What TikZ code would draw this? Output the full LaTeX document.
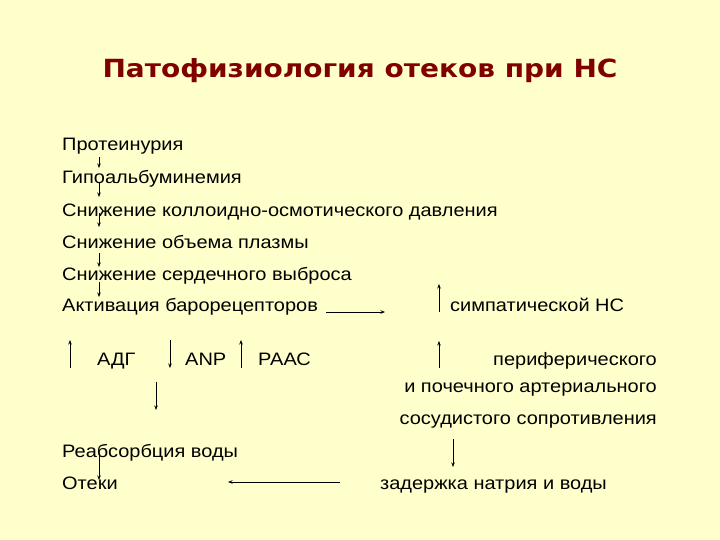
\documentclass[tikz,border=0pt]{standalone}
\usepackage{fontspec}
\setmainfont{Liberation Sans}[FakeStretch=1.11]
\newfontfamily\titlefont{DejaVu Sans}[FakeStretch=1.12]
\usetikzlibrary{positioning,arrows.meta}
\definecolor{slidebg}{HTML}{FFFFCC}
\definecolor{titlered}{HTML}{800000}

\begin{document}
\begin{tikzpicture}[
    x=1pt, y=-1pt,
    every node/.style={font=\fontsize{18}{22}\selectfont, inner sep=0pt, anchor=base west},
    title/.style={font=\titlefont\bfseries\fontsize{25}{28}\selectfont, text=titlered, anchor=base},
    rline/.style={anchor=base east},
    arr/.style={-{Stealth[length=4.5pt,width=3.5pt]}, line width=0.7pt},
]
  \useasboundingbox[fill=slidebg] (0,0) rectangle (720,540);
  \node[title] (title) at (360,78) {Патофизиология отеков при НС};
  % Main chain (left column)
  \node (prot)   at (62,151) {Протеинурия};
  \node (hypo)   at (62,184) {Гипоальбуминемия};
  \node (onc)    at (62,216) {Снижение коллоидно-осмотического давления};
  \node (plasma) at (62,248) {Снижение объема плазмы};
  \node (output) at (62,280) {Снижение сердечного выброса};
  \node (baro)   at (62,311) {Активация барорецепторов};
  % Hormones
  \node (adg)  at (97,365)  {АДГ};
  \node (anp)  at (185,365) {ANP};
  \node (raas) at (258,365) {РААС};
  \node (reabs)  at (62,457) {Реабсорбция воды};
  \node (edema)  at (62,489) {Отеки};
  % Right branch
  \node (symp) at (450,311) {симпатической НС};
  \node[rline] (peri)  at (657,365) {периферического};
  \node[rline] (renal) at (657,392) {и почечного артериального};
  \node[rline] (vasc)  at (657,424) {сосудистого сопротивления};
  \node (retain) at (380,489) {задержка натрия и воды};
  % Arrow columns
  \coordinate (ax) at (99,0);
  \coordinate (bx) at (439,0);
  \coordinate (cx) at (156,0);
  \coordinate (dx) at (453,0);
  % Chain arrows
  \draw[arr] ([yshift=-6pt]prot.base -| ax)   -- ([yshift=16pt]hypo.base -| ax);
  \draw[arr] ([yshift=2pt]hypo.base -| ax)    -- ([yshift=19pt]onc.base -| ax);
  \draw[arr] ([yshift=3pt]onc.base -| ax)     -- ([yshift=21pt]plasma.base -| ax);
  \draw[arr] ([yshift=-5pt]plasma.base -| ax) -- ([yshift=13pt]output.base -| ax);
  \draw[arr] ([yshift=-2pt]output.base -| ax) -- ([yshift=14pt]baro.base -| ax);
  \draw[arr] ([yshift=4pt]reabs.base -| ax)   -- ([yshift=9pt]edema.base -| ax);
  % Baroreceptors to sympathetic NS
  \draw[arr] ([xshift=8pt,yshift=-1pt]baro.base east) -- ([xshift=-65pt,yshift=-1pt]symp.base west);
  \draw[arr] ([yshift=-1pt]symp.base -| bx) -- ([yshift=27pt]symp.base -| bx);
  \draw[arr] ([yshift=-3pt]peri.base -| bx) -- ([yshift=24pt]peri.base -| bx);
  % Hormone arrows
  \draw[arr] ([xshift=-27pt,yshift=-3pt]adg.base west)  -- ([xshift=-27pt,yshift=25pt]adg.base west);
  \draw[arr] ([xshift=-15pt,yshift=25pt]anp.base west)  -- ([xshift=-15pt,yshift=-3pt]anp.base west);
  \draw[arr] ([xshift=-17pt,yshift=-3pt]raas.base west) -- ([xshift=-17pt,yshift=25pt]raas.base west);
  \draw[arr] ([yshift=-17pt]adg.base -| cx) -- ([yshift=47pt]reabs.base -| cx);
  % Resistance to retention to edema
  \draw[arr] ([yshift=-15pt]vasc.base -| dx) -- ([yshift=22pt]retain.base -| dx);
  \draw[arr] ([xshift=-40pt,yshift=7pt]retain.base west) -- ([xshift=166pt,yshift=7pt]edema.base west);
\end{tikzpicture}
\end{document}
